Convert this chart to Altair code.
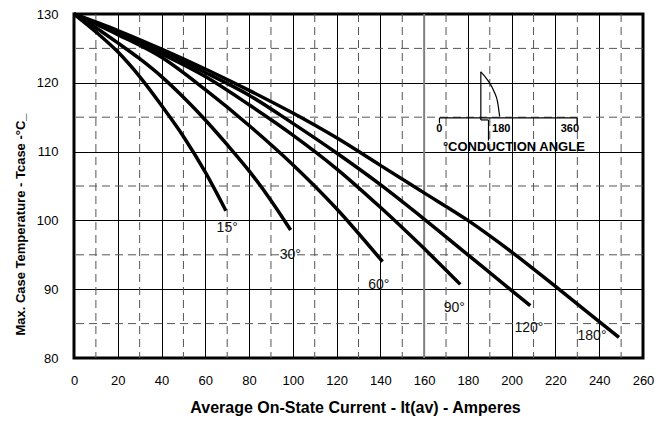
import altair as alt
import pandas as pd

FONT = "Liberation Sans"

# ---- curve data ----
angles = ["15°", "30°", "60°", "90°", "120°", "180°"]
x_15 = [0, 10, 20, 30, 40, 50, 60, 69.4]
t_15 = [130, 127.4, 124.5, 120.9, 116.7, 112.2, 107.0, 101.4]
x_30 = [0, 10, 20, 30, 40, 50, 60, 70, 80, 90, 99]
t_30 = [130, 128.0, 125.8, 123.5, 120.9, 117.9, 114.6, 111.0, 107.2, 102.9, 98.6]
x_60 = [0, 20, 40, 60, 80, 100, 120, 141]
t_60 = [130, 127.0, 123.7, 119.0, 113.8, 108.1, 101.7, 94.0]
x_90 = [0, 20, 40, 60, 80, 100, 120, 140, 160, 176.5]
t_90 = [130, 127.2, 124.2, 120.9, 116.8, 112.4, 107.5, 101.9, 95.9, 90.7]
x_120 = [0, 20, 40, 60, 80, 100, 120, 140, 160, 180, 200, 208.5]
t_120 = [130, 127.3, 124.5, 121.5, 118.2, 114.1, 109.8, 105.2, 100.2, 95.0, 89.8, 87.6]
x_180 = [0, 20, 40, 60, 80, 100, 120, 140, 160, 180, 200, 220, 240, 249]
t_180 = [130, 127.6, 124.9, 122.0, 118.9, 115.6, 112.0, 108.0, 104.0, 100.0, 95.4, 90.4, 85.3, 83.0]

label_x = [70, 98.8, 139.3, 173.8, 207.9, 236.7]
label_t = [98.9, 95.0, 90.6, 87.3, 84.3, 83.2]

# axis ticks / grid
x_major = list(range(0, 261, 20))
x_minor = list(range(10, 251, 20))
y_major = [80, 90, 100, 110, 120, 130]
y_minor = [85, 95, 105, 115, 125]

# inset (conduction angle sketch)
seg_x1 = [167.0, 167.0, 229.9, 185.9, 185.9, 189.4]
seg_t1 = [114.9, 114.9, 114.9, 121.6, 114.6, 114.6]
seg_x2 = [229.9, 167.0, 229.9, 185.9, 189.4, 189.4]
seg_t2 = [114.9, 114.1, 113.9, 114.6, 114.6, 111.6]
wave_x = [185.9, 189.0, 192.0, 193.5, 194.5]
wave_t = [121.6, 120.4, 118.7, 117.3, 115.1]
inset_lbl = ["0", "180", "360"]
inset_lbl_x = [166.9, 195.2, 226.6]
inset_lbl_t = [113.3, 113.3, 113.3]
cond_txt = ["°CONDUCTION ANGLE"]
cond_x = [201.0]
cond_t = [110.7]

# ---- tables ----
series = [(angles[0], x_15, t_15), (angles[1], x_30, t_30), (angles[2], x_60, t_60),
          (angles[3], x_90, t_90), (angles[4], x_120, t_120), (angles[5], x_180, t_180)]
rows = []
for a, xs, ts in series:
    for i, (xv, tv) in enumerate(zip(xs, ts)):
        rows.append({"angle": a, "x": xv, "T": tv, "o": i})
curves_df = pd.DataFrame(rows)
labels_df = pd.DataFrame({"angle": angles, "x": label_x, "T": label_t})
vminor_df = pd.DataFrame({"x": x_minor})
hminor_df = pd.DataFrame({"T": y_minor})
g160_df = pd.DataFrame({"x": [160]})
seg_df = pd.DataFrame({"x": seg_x1, "T": seg_t1, "x2": seg_x2, "T2": seg_t2})
wave_df = pd.DataFrame({"x": wave_x, "T": wave_t, "o": list(range(len(wave_x)))})
ilbl_df = pd.DataFrame({"txt": inset_lbl, "x": inset_lbl_x, "T": inset_lbl_t})
cond_df = pd.DataFrame({"txt": cond_txt, "x": cond_x, "T": cond_t})

xscale = alt.Scale(domain=[0, 260], nice=False, zero=False)
yscale = alt.Scale(domain=[80, 130], nice=False, zero=False)

xaxis = alt.Axis(values=x_major, grid=True, gridColor="black", gridWidth=1, domain=False,
                 ticks=False, tickSize=0, labelFont=FONT, labelFontSize=13, labelColor="black",
                 labelPadding=16, labelFlush=False, labelOverlap=False,
                 title="Average On-State Current - It(av) - Amperes", titleFont=FONT,
                 titleFontSize=16, titleFontWeight="bold", titleColor="black",
                 titleY=49, titleBaseline="middle", titleX=281)
yaxis = alt.Axis(values=y_major, grid=True, gridColor="black", gridWidth=1, domain=False,
                 ticks=False, tickSize=0, labelFont=FONT, labelFontSize=13, labelColor="black",
                 labelPadding=16, labelFlush=False, labelOverlap=False,
                 title="Max. Case Temperature - Tcase -°C_", titleFont=FONT,
                 titleFontSize=13, titleFontWeight="bold", titleColor="black",
                 titleX=-54, titleY=210, titleAngle=-90, titleAlign="center",
                 titleBaseline="middle")

X = alt.X("x:Q", scale=xscale, axis=xaxis)
Y = alt.Y("T:Q", scale=yscale, axis=yaxis)

vdash = alt.Chart(vminor_df).mark_rule(color="#555", strokeWidth=1, strokeDash=[8, 5]).encode(x=X)
hdash = alt.Chart(hminor_df).mark_rule(color="#555", strokeWidth=1, strokeDash=[8, 5]).encode(y=Y)
g160 = alt.Chart(g160_df).mark_rule(color="#808080", strokeWidth=2).encode(x=X)

curves = alt.Chart(curves_df).mark_line(color="black", strokeWidth=3.5, interpolate="monotone").encode(
    x=X, y=Y, detail="angle:N", order="o:Q")
labels = alt.Chart(labels_df).mark_text(font=FONT, fontSize=14, color="#111").encode(
    x=X, y=Y, text="angle:N")

segs = alt.Chart(seg_df).mark_rule(color="black", strokeWidth=1.2).encode(
    x=X, y=Y, x2="x2:Q", y2="T2:Q")
wave = alt.Chart(wave_df).mark_line(color="black", strokeWidth=1.2, interpolate="monotone").encode(
    x=X, y=Y, order="o:Q")
ilbl = alt.Chart(ilbl_df).mark_text(font=FONT, fontSize=11, fontWeight="bold", color="black").encode(
    x=X, y=Y, text="txt:N")
cond = alt.Chart(cond_df).mark_text(font=FONT, fontSize=13, fontWeight="bold", color="black").encode(
    x=X, y=Y, text="txt:N")

chart = alt.layer(vdash, hdash, g160, curves, labels, segs, wave, ilbl, cond).properties(
    width=569, height=344,
    padding={"left": 66, "top": 6, "right": 16, "bottom": 60},
    autosize=alt.AutoSizeParams(type="none"),
    background="white",
).configure_view(stroke="black", strokeWidth=3)

chart.save("out.html", embed_options={"renderer": "svg", "actions": False})
